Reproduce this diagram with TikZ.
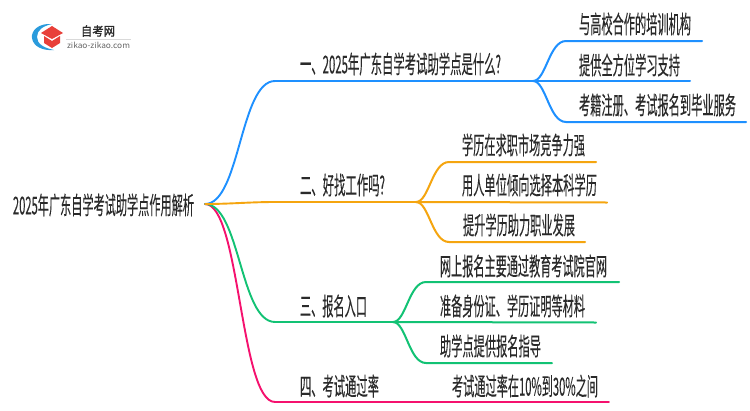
\documentclass[tikz,border=0pt]{standalone}
\usepackage{fontspec}
\usepackage{graphicx}
\setmainfont{Noto Sans CJK SC}[FakeBold=0.2]
\newfontfamily\logofont{Noto Sans CJK SC}[FakeBold=1.2]
\newfontfamily\plainfont{Noto Sans CJK SC}
\definecolor{cblue}{HTML}{1E90FF}
\definecolor{corange}{HTML}{F5A50F}
\definecolor{cgreen}{HTML}{12C274}
\definecolor{cpink}{HTML}{F5116E}
\definecolor{ctext}{HTML}{2A2A2A}
\definecolor{lblue}{HTML}{2A9BDC}
\definecolor{lred}{HTML}{E8403A}
\newcommand{\fitw}[2]{\resizebox*{#1pt}{23pt}{\fontsize{15pt}{15pt}\selectfont #2}}
\tikzset{
  lbl/.style={anchor=west,inner sep=0pt,outer sep=0pt,text=ctext},
  trunk/.style={line width=1.9pt,line cap=round},
  twig/.style={line width=2pt,line cap=round},
}
\begin{document}
\begin{tikzpicture}[x=1pt,y=-1pt]
\useasboundingbox (0,0) rectangle (750,410);
\fill[white] (0,0) rectangle (750,410);
% logo
\fill[lblue] (52,24) .. controls (38,23) and (31,31) .. (32,38)
  .. controls (33,46) and (42,51) .. (54,50)
  .. controls (44,48) and (37,44) .. (37,37)
  .. controls (37,30) and (43,26) .. (52,24) -- cycle;
\fill[lred] (52,26) -- (63,33) -- (52,39) -- (41,33) -- cycle;
\fill[lred] (44,36) -- (52,41) -- (60,36) -- (60,43) -- (52,48) -- (44,43) -- cycle;
\node[inner sep=0pt,text=ctext] (logot) at (98,31) {\resizebox{34pt}{\height}{\fontsize{12.5pt}{12.5pt}\logofont 自考网}};
\draw[black!15,line width=.6pt] (66,39) -- (131,39);
\node[inner sep=0pt,text=black!60] (logou) at (98.5,45) {\resizebox{63pt}{\height}{\fontsize{8pt}{8pt}\plainfont zikao-zikao.com}};
% anchors
\coordinate (root) at (205,204);
\coordinate (h1) at (533,81);
\coordinate (h2) at (416,202);
\coordinate (h3) at (393,322);
\coordinate (e4) at (609,402);
% end points of the twigs
\coordinate (a1) at (702,41);\coordinate (a2) at (690,81);\coordinate (a3) at (746,122);
\coordinate (b1) at (596,162);\coordinate (b2) at (607,202.5);\coordinate (b3) at (585,242);
\coordinate (c1) at (619,282);\coordinate (c2) at (596,322.5);\coordinate (c3) at (552,363);
% trunks
\draw[trunk,cpink] (root) .. controls (240,204) and (240,402) .. (275,402) -- (e4);
\draw[trunk,cgreen] (root) .. controls (240,204) and (240,322) .. (275,322) -- (h3);
\draw[trunk,cblue] (root) .. controls (240,204) and (240,81) .. (275,81) -- (h1);
\draw[trunk,corange] (root) .. controls (230,204) and (250,202) .. (275,202) -- (h2);
% twigs
\draw[twig,cblue] (h1) .. controls (546,81) and (549,41) .. (566,41) -- (a1);
\draw[twig,cblue] (h1) -- (a2);
\draw[twig,cblue] (h1) .. controls (546,81) and (549,122) .. (566,122) -- (a3);
\draw[twig,corange] (h2) .. controls (429,202) and (432,162) .. (449,162) -- (b1);
\draw[twig,corange] (h2) -- (b2);
\draw[twig,corange] (h2) .. controls (429,202) and (432,242) .. (449,242) -- (b3);
\draw[twig,cgreen] (h3) .. controls (406,322) and (409,282) .. (426,282) -- (c1);
\draw[twig,cgreen] (h3) -- (c2);
\draw[twig,cgreen] (h3) .. controls (406,322) and (409,363) .. (426,363) -- (c3);
% labels
\node[lbl] (n0) at (13,205) {\fitw{181}{2025年广东自学考试助学点作用解析}};
\node[lbl] (n1) at (300,64) {\fitw{201}{一、2025年广东自学考试助学点是什么?}};
\node[lbl] (n2) at (300,185) {\fitw{85}{二、好找工作吗?}};
\node[lbl] (n3) at (300,306) {\fitw{67}{三、报名入口}};
\node[lbl] (n4) at (300,386) {\fitw{79}{四、考试通过率}};
\node[lbl] (n11) at (579,24) {\fitw{112}{与高校合作的培训机构}};
\node[lbl] (n12) at (579,65) {\fitw{101}{提供全方位学习支持}};
\node[lbl] (n13) at (579,105) {\fitw{157}{考籍注册、考试报名到毕业服务}};
\node[lbl] (n21) at (462,145) {\fitw{123}{学历在求职市场竞争力强}};
\node[lbl] (n22) at (462,185) {\fitw{135}{用人单位倾向选择本科学历}};
\node[lbl] (n23) at (463,225) {\fitw{112}{提升学历助力职业发展}};
\node[lbl] (n31) at (440,266) {\fitw{167}{网上报名主要通过教育考试院官网}};
\node[lbl] (n32) at (440,306) {\fitw{145}{准备身份证、学历证明等材料}};
\node[lbl] (n33) at (440,346) {\fitw{101}{助学点提供报名指导}};
\node[lbl] (n41) at (452,386) {\fitw{146}{考试通过率在10\%到30\%之间}};
\end{tikzpicture}
\end{document}
